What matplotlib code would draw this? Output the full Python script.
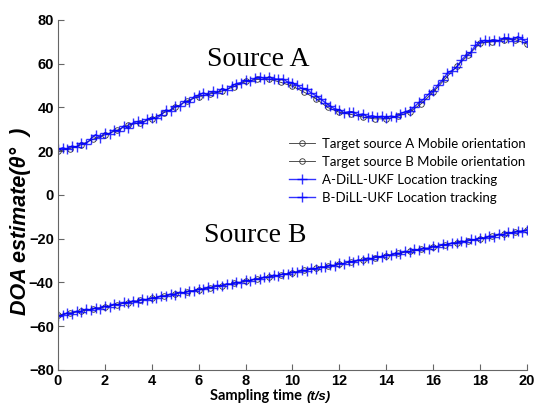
import numpy as np
import matplotlib
matplotlib.use("Agg")
import matplotlib.pyplot as plt

# sampling grids
t_target = np.linspace(0, 20, 41)
t_track = np.linspace(0, 20, 101)

# target source A / B (circles)
target_a = [20.0, 21.2, 23.0, 25.5, 27.5, 29.5, 32.0, 33.0, 34.8, 37.5,
            40.0, 43.0, 45.0, 46.2, 47.5, 49.5, 52.0, 52.8, 53.0, 51.5,
            49.7, 47.0, 44.0, 40.0, 37.8, 36.8, 35.6, 34.8, 34.8, 36.0,
            38.0, 41.8, 47.0, 53.0, 58.8, 64.0, 69.4, 70.0, 71.0, 71.0,
            69.0]
target_b = [-55.0, -54.0, -53.1, -52.1, -51.1, -50.1, -49.2, -48.2, -47.2, -46.2,
            -45.2, -44.3, -43.3, -42.3, -41.4, -40.4, -39.4, -38.4, -37.4, -36.5,
            -35.5, -34.5, -33.6, -32.6, -31.6, -30.6, -29.7, -28.7, -27.7, -26.7,
            -25.8, -24.8, -23.8, -22.8, -21.8, -20.9, -19.9, -18.9, -17.9, -17.0,
            -16.0]

# DiLL-UKF tracking (plus markers)
track_a = [20.8, 21.6, 20.9, 22.4, 21.8, 23.9, 23.4, 25.6, 27.6, 26.2,
           28.3, 27.9, 29.8, 29.2, 31.6, 30.6, 32.9, 33.6, 32.7, 34.6,
           35.3, 35.0, 36.6, 38.9, 38.4, 40.8, 40.6, 42.9, 42.6, 44.9,
           45.6, 46.7, 45.7, 47.4, 46.8, 48.6, 48.0, 49.8, 50.9, 51.4,
           52.5, 51.9, 53.3, 54.0, 53.2, 53.8, 53.1, 52.9, 53.0, 51.6,
           51.3, 50.2, 48.7, 48.5, 46.6, 45.4, 43.9, 42.2, 40.6, 39.4,
           38.8, 37.6, 38.1, 37.9, 36.6, 37.1, 35.8, 36.3, 35.6, 36.0,
           35.4, 36.1, 35.7, 37.0, 38.1, 38.6, 40.3, 42.4, 43.8, 46.1,
           47.6, 50.3, 52.6, 55.7, 56.9, 58.3, 61.6, 63.8, 65.2, 68.4,
           69.8, 70.7, 70.3, 71.0, 70.5, 71.6, 71.9, 70.6, 72.4, 71.2,
           69.8]
track_b = [-55.4, -54.9, -53.8, -54.2, -53.1, -53.3, -52.2, -52.6, -51.5, -51.9,
           -50.8, -51.0, -49.9, -50.2, -49.1, -49.4, -48.3, -48.7, -47.6, -47.9,
           -46.9, -47.1, -46.0, -46.3, -45.2, -45.5, -44.4, -44.8, -43.7, -44.0,
           -42.9, -43.2, -42.1, -42.4, -41.3, -41.6, -40.5, -40.9, -39.8, -40.1,
           -39.0, -39.3, -38.2, -38.5, -37.4, -37.7, -36.6, -37.0, -35.9, -36.2,
           -35.1, -35.4, -34.3, -34.6, -33.5, -33.8, -32.7, -33.1, -32.0, -32.3,
           -31.2, -31.5, -30.4, -30.7, -29.6, -29.9, -28.8, -29.2, -28.1, -28.4,
           -27.3, -27.6, -26.5, -26.8, -25.7, -26.0, -24.9, -25.3, -24.2, -24.5,
           -23.4, -23.7, -22.6, -22.9, -21.8, -22.1, -21.0, -21.4, -20.3, -20.6,
           -19.5, -19.8, -18.7, -19.0, -17.9, -18.2, -17.1, -17.5, -16.4, -16.7,
           -15.8]

labels = ["Target source A Mobile orientation",
          "Target source B Mobile orientation",
          "A-DiLL-UKF Location tracking",
          "B-DiLL-UKF Location tracking"]

fig = plt.figure(figsize=(5.34, 4.03), dpi=100)
ax = fig.add_axes([0.1086, 0.0819, 0.8783, 0.8685])

tgt_style = dict(color="#333333", lw=0.6, marker="o", ms=4, mfc="none", mew=0.6)
trk_style = dict(color="#0000ff", lw=1.0, marker="+", ms=7, mew=1.0, alpha=0.8)

ax.plot(t_target, target_a, label=labels[0], **tgt_style)
ax.plot(t_target, target_b, label=labels[1], **tgt_style)
ax.plot(t_track, track_a, label=labels[2], **trk_style)
ax.plot(t_track, track_b, label=labels[3], **trk_style)

ax.set_xlim(0, 20)
ax.set_ylim(-80, 80)
ax.set_xticks(np.arange(0, 21, 2))
ax.set_yticks(np.arange(-80, 81, 20))
for s in ["top", "right"]:
    ax.spines[s].set_visible(False)
for s in ["left", "bottom"]:
    ax.spines[s].set_color("#666666")
ax.tick_params(direction="in", length=4, color="#666666")
ax.tick_params(axis="x", pad=3)
ax.tick_params(axis="y", pad=3)
for lbl in ax.get_xticklabels() + ax.get_yticklabels():
    lbl.set_fontfamily("Liberation Sans")
    lbl.set_fontweight("bold")
    lbl.set_fontsize(10.5)

ax.text(8.55, 59, "Source A", family="Liberation Serif", fontsize=20, ha="center")
ax.text(8.4, -21.6, "Source B", family="Liberation Serif", fontsize=20, ha="center")

fig.text(0.038, 0.45, "DOA estimate(\u03b8\u00b0  )", rotation=90, ha="center", va="center",
         family="Liberation Sans", fontweight="bold", fontstyle="italic", fontsize=15.5)
fig.text(0.566, 0.0, "Sampling time", ha="right", va="bottom",
         family="Lato", fontweight="bold", fontsize=10.5)
fig.text(0.574, 0.0, "(t/s)", ha="left", va="bottom",
         family="Liberation Sans", fontweight="bold", fontstyle="italic", fontsize=9.5)

leg = ax.legend(loc="upper left", bbox_to_anchor=(289 / 534, 1 - 138 / 403),
                bbox_transform=fig.transFigure, frameon=False,
                prop={"family": "Lato", "size": 9.5}, handlelength=2.0,
                handletextpad=0.5, labelspacing=0.45, borderaxespad=0, borderpad=0)
for h in leg.get_lines()[2:]:
    h.set_markevery([1])

fig.savefig("out.png", dpi=100)
